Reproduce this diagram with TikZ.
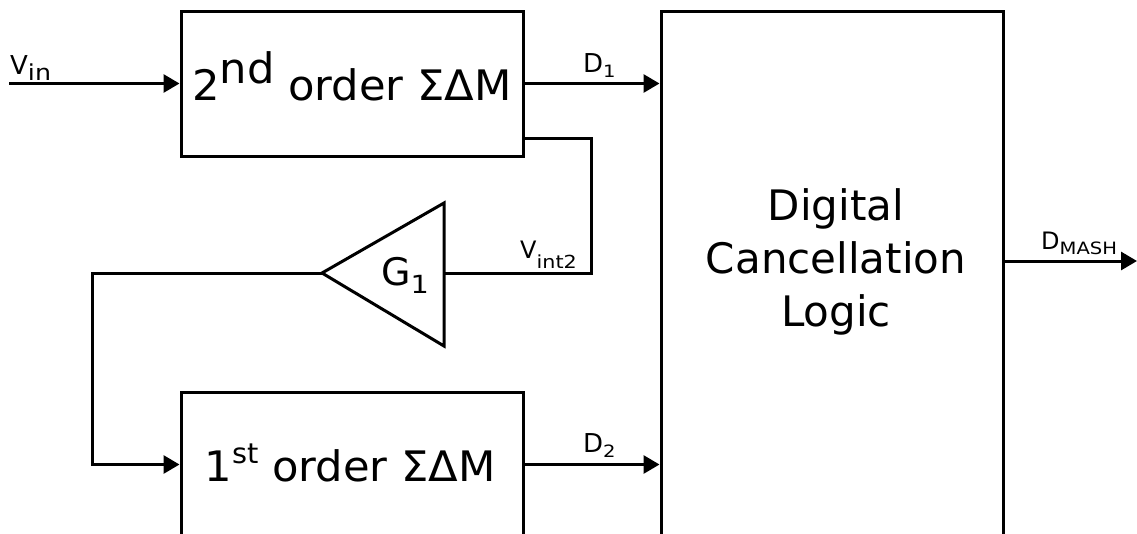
\documentclass[tikz,border=0pt]{standalone}
\usepackage{fontspec}
\setmainfont{DejaVu Sans}
\usetikzlibrary{arrows.meta}
\newcommand{\fsz}[1]{\fontsize{#1}{#1}\selectfont}
\newcommand{\subsz}[1]{\fontsize{#1}{#1}\selectfont\addfontfeature{FakeStretch=1.15}}
\newcommand{\blksz}{\fontsize{42}{42}\selectfont\addfontfeature{FakeStretch=1.03}}
\begin{document}
\begin{tikzpicture}[x=1pt,y=-1pt,
  wire/.style={line width=3pt},
  sig/.style={wire,-{Triangle[length=16pt,width=18pt]}},
  blk/.style={draw,line width=3pt,minimum width=342pt,inner sep=0pt},
  lab/.style={inner sep=0pt,anchor=base west},
  blktext/.style={inner sep=0pt,anchor=base,font=\blksz}]
\useasboundingbox (0,0) rectangle (1137,533);
\clip (0,0) rectangle (1137,533);
% blocks
\node[blk,minimum height=145pt] (top) at (352,83.5) {};
\node[blk,minimum height=145pt] (bot) at (352,464.5) {};
\node[blk,minimum height=526pt] (dcl) at (832,274) {};
\node[blktext] (toptxt) at (352,100) {2\raisebox{17pt}{nd} order ΣΔM};
\node[blktext] (bottxt) at (350,481) {1\raisebox{18pt}{\fsz{28}\addfontfeature{FakeStretch=1.03}st} order ΣΔM};
\node[inner sep=0pt,align=center,font=\fontsize{42}{53}\selectfont] (dcltxt) at (836,262) {Digital\\Cancellation\\Logic};
% amplifier
\coordinate (ampin) at (444,273);
\coordinate (ampout) at (322,273);
\draw[wire,line join=miter] (444,203) -- (444,346) -- (ampout) -- cycle;
\node[lab] (g1) at (381,285) {\fsz{38}G\raisebox{-8pt}{\subsz{25}1}};
% coordinates
\coordinate (vin) at (9,83.5);
\coordinate (tap) at (523,138);
\coordinate (tapc) at (591,138);
\coordinate (lc) at (92,273);
\coordinate (dmash) at (1137,261);
% connectors
\draw[sig] (vin) -- (top.west);
\draw[sig] (top.east) -- (top.east -| dcl.west);
\draw[sig] (bot.east) -- (bot.east -| dcl.west);
\draw[wire,line join=miter] (tap) -- (tapc) |- (ampin);
\draw[sig,line join=miter] (ampout) -- (lc) |- (bot.west);
\draw[sig] (dcl.east |- dmash) -- (dmash);
% labels
\node[lab] (vinlab) at (10,74) {\fsz{26}V\raisebox{-6pt}{\subsz{22}in}};
\node[lab] (d1) at (583,72) {\fsz{26}D\raisebox{-5pt}{\subsz{17}1}};
\node[lab] (d2) at (583,452) {\fsz{26}D\raisebox{-5pt}{\subsz{17}2}};
\node[lab] (vint2) at (520,258) {\fsz{24}V\raisebox{-10pt}{\subsz{18}int2}};
\node[lab] (dm) at (1041,249) {\fsz{24}D\raisebox{-5pt}{\subsz{17}MASH}};
\end{tikzpicture}
\end{document}
